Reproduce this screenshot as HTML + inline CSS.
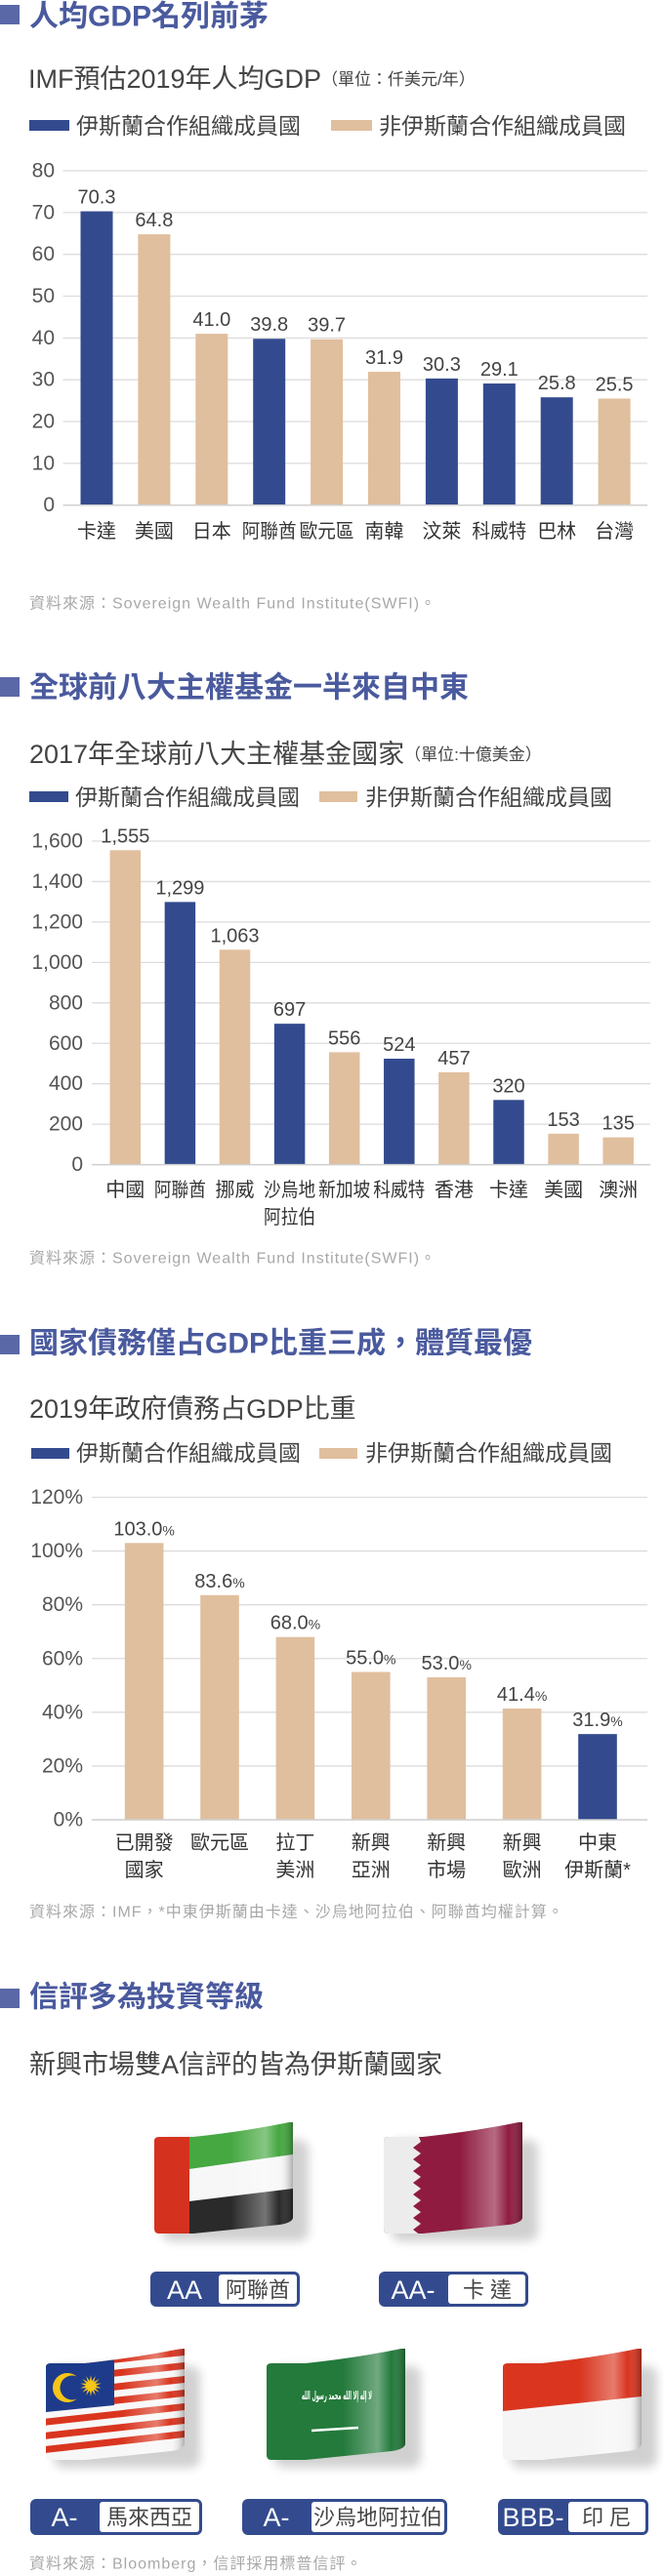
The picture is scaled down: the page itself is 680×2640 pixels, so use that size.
<!DOCTYPE html>
<html lang="zh-Hant">
<head>
<meta charset="utf-8">
<title>伊斯蘭國家經濟</title>
<style>
html,body{margin:0;padding:0;background:#fff;}
body{width:680px;height:2640px;overflow:hidden;}
svg{display:block;font-family:"Liberation Sans","Noto Sans CJK TC",sans-serif;}
.ttl{font-size:30px;font-weight:bold;fill:#4a5a9e;}
.sub{font-size:27px;fill:#444;}
.unit{font-size:17px;fill:#444;}
.leg{font-size:23px;fill:#444;}
.src{font-size:16px;fill:#a8a8a8;letter-spacing:1px;}
.tick{font-size:21px;fill:#555;}
.val{font-size:20px;fill:#444;}
.cat{font-size:20px;fill:#333;}
.bt{font-size:27px;fill:#fff;}
.bl{font-size:22px;fill:#444;}
</style>
</head>
<body>
<svg id="page" width="680" height="2640" viewBox="0 0 680 2640">
<defs>
  <clipPath id="flagClip"><path d="M0,19 Q0,15 5,15 L40,15 Q95,9 138,0 L142,0 L142,98 Q141,103 128,105 Q80,110 40,114 L5,114 Q0,114 0,109 Z"/></clipPath>
  <linearGradient id="gloss" x1="0" x2="1" y1="0" y2="0">
    <stop offset="0" stop-color="#fff" stop-opacity="0"/>
    <stop offset="0.55" stop-color="#fff" stop-opacity="0"/>
    <stop offset="0.8" stop-color="#fff" stop-opacity="0.35"/>
    <stop offset="0.9" stop-color="#fff" stop-opacity="0"/>
    <stop offset="1" stop-color="#000" stop-opacity="0.3"/>
  </linearGradient>
  <filter id="blur" x="-20%" y="-20%" width="140%" height="140%"><feGaussianBlur stdDeviation="5"/></filter>
</defs>

<!-- Section 1 -->
<rect x="0" y="5" width="20" height="20" fill="#5a68a8"/>
<text x="30" y="17" dominant-baseline="central" class="ttl">人均GDP名列前茅</text>
<text x="29" y="81" dominant-baseline="central" class="sub">IMF預估2019年人均GDP<tspan class="unit">（單位：仟美元/年）</tspan></text>
<g>
  <rect x="30" y="123" width="41" height="11" fill="#334b8e"/>
  <text x="78" y="129" dominant-baseline="central" class="leg">伊斯蘭合作組織成員國</text>
  <rect x="339" y="123" width="42" height="11" fill="#e0bf9e"/>
  <text x="388" y="129" dominant-baseline="central" class="leg">非伊斯蘭合作組織成員國</text>
</g>
<g id="chart1"></g>
<text x="30" y="619" dominant-baseline="central" class="src">資料來源：Sovereign Wealth Fund Institute(SWFI)。</text>

<!-- Section 2 -->
<rect x="0" y="694" width="20" height="20" fill="#5a68a8"/>
<text x="30" y="705" dominant-baseline="central" class="ttl">全球前八大主權基金一半來自中東</text>
<text x="30" y="773" dominant-baseline="central" class="sub">2017年全球前八大主權基金國家<tspan class="unit">（單位:十億美金）</tspan></text>
<g>
  <rect x="30" y="811" width="40" height="11" fill="#334b8e"/>
  <text x="77" y="817" dominant-baseline="central" class="leg">伊斯蘭合作組織成員國</text>
  <rect x="327" y="811" width="39" height="11" fill="#e0bf9e"/>
  <text x="374" y="817" dominant-baseline="central" class="leg">非伊斯蘭合作組織成員國</text>
</g>
<g id="chart2"></g>
<text x="30" y="1290" dominant-baseline="central" class="src">資料來源：Sovereign Wealth Fund Institute(SWFI)。</text>

<!-- Section 3 -->
<rect x="0" y="1368" width="20" height="20" fill="#5a68a8"/>
<text x="30" y="1377" dominant-baseline="central" class="ttl">國家債務僅占GDP比重三成，體質最優</text>
<text x="30" y="1444" dominant-baseline="central" class="sub">2019年政府債務占GDP比重</text>
<g>
  <rect x="32" y="1484" width="39" height="11" fill="#334b8e"/>
  <text x="78" y="1489" dominant-baseline="central" class="leg">伊斯蘭合作組織成員國</text>
  <rect x="327" y="1484" width="39" height="11" fill="#e0bf9e"/>
  <text x="374" y="1489" dominant-baseline="central" class="leg">非伊斯蘭合作組織成員國</text>
</g>
<g id="chart3"></g>
<text x="30" y="1960" dominant-baseline="central" class="src">資料來源：IMF，*中東伊斯蘭由卡達、沙烏地阿拉伯、阿聯酋均權計算。</text>

<!-- Section 4 -->
<rect x="0" y="2038" width="20" height="20" fill="#5a68a8"/>
<text x="30" y="2047" dominant-baseline="central" class="ttl">信評多為投資等級</text>
<text x="30" y="2116" dominant-baseline="central" class="sub">新興市場雙A信評的皆為伊斯蘭國家</text>

<!-- UAE flag -->
<g transform="translate(158,2175)">
  <rect x="8" y="18" width="150" height="104" rx="10" fill="#000" opacity="0.18" filter="url(#blur)"/>
  <g clip-path="url(#flagClip)">
    <polygon points="36,-5 142,-5 142,33 36,48" fill="#45a840"/>
    <polygon points="36,48 142,33 142,68 36,81" fill="#f7f7f7"/>
    <polygon points="36,81 142,68 142,120 36,120" fill="#2a2a2a"/>
    <rect x="0" y="0" width="36" height="120" fill="#d4321f"/>
    <rect x="0" y="0" width="142" height="120" fill="url(#gloss)"/>
  </g>
</g>
<!-- Qatar flag -->
<g transform="translate(393,2175)">
  <rect x="8" y="18" width="150" height="104" rx="10" fill="#000" opacity="0.18" filter="url(#blur)"/>
  <g clip-path="url(#flagClip)">
    <rect x="0" y="0" width="142" height="120" fill="#8f1c40"/>
    <polygon points="0,0 30,0 38,20 30,26 38,32 30,38 38,44 30,50 38,56 30,62 38,68 30,74 38,80 30,86 38,92 30,98 38,104 30,110 38,116 30,120 0,120" fill="#ececec"/>
    <rect x="0" y="0" width="142" height="120" fill="url(#gloss)"/>
  </g>
</g>
<!-- Malaysia flag -->
<g transform="translate(47,2407)">
  <rect x="8" y="18" width="150" height="104" rx="10" fill="#000" opacity="0.18" filter="url(#blur)"/>
  <g clip-path="url(#flagClip)" id="mysStripes">
    <rect x="0" y="0" width="142" height="120" fill="#f7f7f7"/>
  </g>
</g>
<!-- Saudi flag -->
<g transform="translate(273,2407)">
  <rect x="8" y="18" width="150" height="104" rx="10" fill="#000" opacity="0.18" filter="url(#blur)"/>
  <g clip-path="url(#flagClip)">
    <rect x="0" y="0" width="142" height="120" fill="#237a3b"/>
    <text x="72" y="52" text-anchor="middle" font-family="DejaVu Sans, sans-serif" font-size="12" font-weight="bold" fill="#fff" textLength="72" lengthAdjust="spacingAndGlyphs">لا إله إلا الله محمد رسول الله</text>
    <line x1="46" y1="84" x2="94" y2="81" stroke="#fff" stroke-width="2.5"/>
    <rect x="0" y="0" width="142" height="120" fill="url(#gloss)"/>
  </g>
</g>
<!-- Indonesia flag -->
<g transform="translate(515,2407)">
  <rect x="8" y="18" width="150" height="104" rx="10" fill="#000" opacity="0.18" filter="url(#blur)"/>
  <g clip-path="url(#flagClip)">
    <rect x="0" y="0" width="142" height="120" fill="#f5f5f5"/>
    <polygon points="0,-5 142,-5 142,49 0,64" fill="#d9351f"/>
    <rect x="0" y="0" width="142" height="120" fill="url(#gloss)"/>
  </g>
</g>

<!-- Badges -->
<g>
  <rect x="154" y="2328" width="153" height="36" rx="6" fill="#334b8e"/>
  <rect x="224" y="2331" width="80" height="30" rx="3" fill="#fff"/>
  <text x="189" y="2347" text-anchor="middle" dominant-baseline="central" class="bt">AA</text>
  <text x="264" y="2347" text-anchor="middle" dominant-baseline="central" class="bl">阿聯酋</text>
</g>
<g>
  <rect x="388" y="2328" width="153" height="36" rx="6" fill="#334b8e"/>
  <rect x="459" y="2331" width="79" height="30" rx="3" fill="#fff"/>
  <text x="423" y="2347" text-anchor="middle" dominant-baseline="central" class="bt">AA-</text>
  <text x="499" y="2347" text-anchor="middle" dominant-baseline="central" class="bl">卡 達</text>
</g>
<g>
  <rect x="31" y="2561" width="176" height="37" rx="6" fill="#334b8e"/>
  <rect x="102" y="2564" width="102" height="31" rx="3" fill="#fff"/>
  <text x="66" y="2580" text-anchor="middle" dominant-baseline="central" class="bt">A-</text>
  <text x="153" y="2580" text-anchor="middle" dominant-baseline="central" class="bl">馬來西亞</text>
</g>
<g>
  <rect x="248" y="2561" width="210" height="37" rx="6" fill="#334b8e"/>
  <rect x="319" y="2564" width="136" height="31" rx="3" fill="#fff"/>
  <text x="283" y="2580" text-anchor="middle" dominant-baseline="central" class="bt">A-</text>
  <text x="387" y="2580" text-anchor="middle" dominant-baseline="central" class="bl">沙烏地阿拉伯</text>
</g>
<g>
  <rect x="510" y="2561" width="154" height="37" rx="6" fill="#334b8e"/>
  <rect x="582" y="2564" width="79" height="31" rx="3" fill="#fff"/>
  <text x="546" y="2580" text-anchor="middle" dominant-baseline="central" class="bt">BBB-</text>
  <text x="621" y="2580" text-anchor="middle" dominant-baseline="central" class="bl">印 尼</text>
</g>
<text x="30" y="2628" dominant-baseline="central" class="src">資料來源：Bloomberg，信評採用標普信評。</text>
</svg>

<script>
// ---- Chart 1 data: GDP per capita (thousand USD) ----
const gdpCategories = ["卡達","美國","日本","阿聯酋","歐元區","南韓","汶萊","科威特","巴林","台灣"];
const gdpValues = [70.3, 64.8, 41.0, 39.8, 39.7, 31.9, 30.3, 29.1, 25.8, 25.5];
const gdpValueLabels = ["70.3","64.8","41.0","39.8","39.7","31.9","30.3","29.1","25.8","25.5"];
const gdpOic = [true, false, false, true, false, false, true, true, true, false];
const gdpTicks = [0, 10, 20, 30, 40, 50, 60, 70, 80];
const gdpTickLabels = ["0","10","20","30","40","50","60","70","80"];

// ---- Chart 2 data: sovereign wealth funds (billion USD) ----
const swfCategories = ["中國","阿聯酋","挪威","沙烏地\n阿拉伯","新加坡","科威特","香港","卡達","美國","澳洲"];
const swfValues = [1555, 1299, 1063, 697, 556, 524, 457, 320, 153, 135];
const swfValueLabels = ["1,555","1,299","1,063","697","556","524","457","320","153","135"];
const swfOic = [false, true, false, true, false, true, false, true, false, false];
const swfTicks = [0, 200, 400, 600, 800, 1000, 1200, 1400, 1600];
const swfTickLabels = ["0","200","400","600","800","1,000","1,200","1,400","1,600"];

// ---- Chart 3 data: government debt / GDP (%) ----
const debtCategories = ["已開發\n國家","歐元區","拉丁\n美洲","新興\n亞洲","新興\n市場","新興\n歐洲","中東\n伊斯蘭*"];
const debtValues = [103.0, 83.6, 68.0, 55.0, 53.0, 41.4, 31.9];
const debtValueLabels = ["103.0","83.6","68.0","55.0","53.0","41.4","31.9"];
const debtOic = [false, false, false, false, false, false, true];
const debtTicks = [0, 20, 40, 60, 80, 100, 120];
const debtTickLabels = ["0%","20%","40%","60%","80%","100%","120%"];

const NS = "http://www.w3.org/2000/svg";
const BLUE = "#334b8e", TAN = "#e0bf9e";

function mk(tag, attrs, parent) {
  const el = document.createElementNS(NS, tag);
  for (const k in attrs) el.setAttribute(k, attrs[k]);
  parent.appendChild(el);
  return el;
}

function drawChart(g, opt, cats, vals, valLabels, oic, ticks, tickLabels) {
  const yScale = v => opt.base - v * (opt.base - opt.top) / opt.max;
  const xScale = i => opt.c0 + i * opt.step;
  ticks.forEach((t, i) => {
    const y = yScale(t);
    const ln = mk("line", {x1: opt.gx0, x2: opt.gx1, y1: y, y2: y, stroke: "#dcdcdc", "stroke-width": 1.3}, g);
    
    
    const tx = mk("text", {x: opt.tickX, y: y, "text-anchor": "end", "dominant-baseline": "central", class: "tick"}, g);
    tx.textContent = tickLabels[i];
    
    
  });
  vals.forEach((v, i) => {
    const cx = xScale(i);
    const y = yScale(v);
    const r = mk("rect", {x: cx - opt.bw / 2, y: y, width: opt.bw, height: opt.base - y, fill: oic[i] ? BLUE : TAN}, g);
    
    
    const t = mk("text", {x: cx, y: y - 8, "text-anchor": "middle", class: "val"}, g);
    t.textContent = valLabels[i];
    if (opt.pct) {
      const ts = mk("tspan", {"font-size": "14"}, t);
      ts.textContent = "%";
    }
    
    
    const lines = cats[i].split("\n");
    lines.forEach((ln, j) => {
      const attrs = {x: cx, y: opt.catY + j * opt.catStep, "text-anchor": "middle", "dominant-baseline": "central", class: "cat"};
      const natural = [...ln].filter(ch => ch !== "*").length * 20;
      if (natural > opt.step - 3) { attrs.textLength = opt.step - 3; attrs.lengthAdjust = "spacingAndGlyphs"; }
      const c = mk("text", attrs, g);
      c.textContent = ln;
      
      
    });
  });
  const ax = mk("line", {x1: opt.gx0, x2: opt.gx1, y1: opt.base, y2: opt.base, stroke: "#d0d0d0", "stroke-width": 1.5}, g);
  
  
}

drawChart(document.getElementById("chart1"),
  {base: 517.7, top: 175, max: 80, gx0: 64.5, gx1: 663, c0: 99, step: 58.9, bw: 33, tickX: 56, catY: 545, catStep: 28, pct: false},
  gdpCategories, gdpValues, gdpValueLabels, gdpOic, gdpTicks, gdpTickLabels);
drawChart(document.getElementById("chart2"),
  {base: 1193.6, top: 862, max: 1600, gx0: 94, gx1: 666, c0: 128.3, step: 56.1, bw: 31.5, tickX: 85, catY: 1220, catStep: 28, pct: false},
  swfCategories, swfValues, swfValueLabels, swfOic, swfTicks, swfTickLabels);
drawChart(document.getElementById("chart3"),
  {base: 1865, top: 1534.5, max: 120, gx0: 94, gx1: 663, c0: 147.6, step: 77.4, bw: 39.6, tickX: 85, catY: 1889, catStep: 28, pct: true},
  debtCategories, debtValues, debtValueLabels, debtOic, debtTicks, debtTickLabels);

// Malaysia flag details
(function () {
  const g = document.getElementById("mysStripes");
  for (let i = 0; i < 14; i += 2) {
    const l0 = 15 + 99 * i / 14, l1 = 15 + 99 * (i + 1) / 14;
    const r0 = 0 + 98 * i / 14, r1 = 0 + 98 * (i + 1) / 14;
    const p = mk("polygon", {points: `0,${l0} 142,${r0} 142,${r1} 0,${l1}`, fill: "#d9351f"}, g);
    
    
  }
  const canton = mk("polygon", {points: "0,-5 70,-5 70,58 0,65", fill: "#1d3b8a"}, g);
  
  
  const c1 = mk("circle", {cx: 22, cy: 40, r: 15, fill: "#f5c518"}, g);
  
  
  const c2 = mk("circle", {cx: 27, cy: 40, r: 12.5, fill: "#1d3b8a"}, g);
  
  
  let pts = [];
  for (let k = 0; k < 28; k++) {
    const a = Math.PI * k / 14 - Math.PI / 2;
    const rr = k % 2 === 0 ? 11 : 5;
    pts.push((46 + rr * Math.cos(a)).toFixed(1) + "," + (38 + rr * Math.sin(a)).toFixed(1));
  }
  const star = mk("polygon", {points: pts.join(" "), fill: "#f5c518"}, g);
  
  
  const gl = mk("rect", {x: 0, y: 0, width: 142, height: 120, fill: "url(#gloss)"}, g);
  
  
})();
</script>
</body>
</html>
